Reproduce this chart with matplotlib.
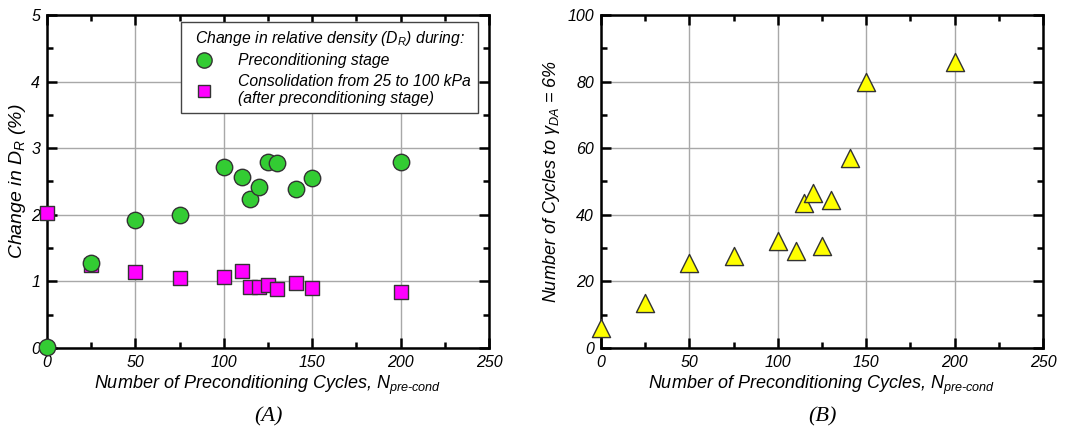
import matplotlib.pyplot as plt
from matplotlib.lines import Line2D
from matplotlib.ticker import MultipleLocator

plt.rcParams["font.family"] = ["Liberation Sans", "DejaVu Sans"]
plt.rcParams["font.style"] = "italic"
plt.rcParams["mathtext.fontset"] = "custom"
plt.rcParams["mathtext.it"] = "Liberation Sans:italic"
plt.rcParams["mathtext.rm"] = "Liberation Sans:italic"

# Number of preconditioning cycles (shared x values)
n_precond = [0, 25, 50, 75, 100, 110, 115, 120, 125, 130, 141, 150, 200]

# Panel A: change in relative density (%)
dr_precond = [0.02, 1.27, 1.92, 2.00, 2.71, 2.56, 2.23, 2.41, 2.79, 2.77, 2.39, 2.55, 2.79]
dr_consol = [2.03, 1.24, 1.14, 1.05, 1.06, 1.16, 0.92, 0.91, 0.95, 0.89, 0.98, 0.90, 0.84]

# Panel B: number of cycles to gamma_DA = 6%
n_cycles = [6, 13.5, 25.5, 27.5, 32, 29, 43.5, 46.5, 30.5, 44.5, 57, 80, 86]

xlabel = r"Number of Preconditioning Cycles, $N_{pre\text{-}cond}$"


def style_axes(ax, ymax, ymajor, yminor):
    ax.set_xlim(0, 250)
    ax.set_ylim(0, ymax)
    ax.xaxis.set_major_locator(MultipleLocator(50))
    ax.xaxis.set_minor_locator(MultipleLocator(25))
    ax.yaxis.set_major_locator(MultipleLocator(ymajor))
    ax.yaxis.set_minor_locator(MultipleLocator(yminor))
    ax.tick_params(which="both", direction="in", top=True, right=True, width=1.8)
    ax.tick_params(which="major", length=7, labelsize=11.5, pad=5)
    ax.tick_params(which="minor", length=4)
    for s in ax.spines.values():
        s.set_linewidth(1.8)
    ax.grid(True, which="major", color="#a8a8a8", lw=1.0)
    ax.set_axisbelow(True)
    ax.set_xlabel(xlabel, fontsize=13, labelpad=3)


fig = plt.figure(figsize=(10.79, 4.30), dpi=100)
ax1 = fig.add_axes([0.0436, 0.191, 0.4097, 0.774])
ax2 = fig.add_axes([0.557, 0.191, 0.4097, 0.774])

# ---- Panel A ----
style_axes(ax1, 5, 1, 0.5)
ax1.scatter(n_precond, dr_consol, marker="s", s=110, c="#ff00ff",
            edgecolors="#333333", linewidths=1.0, zorder=3, clip_on=False)
ax1.scatter(n_precond, dr_precond, marker="o", s=140, c="#33cc33",
            edgecolors="#333333", linewidths=1.0, zorder=4, clip_on=False)
ax1.set_ylabel(r"Change in $D_R$ (%)", fontsize=14, labelpad=2)

handles = [
    Line2D([], [], ls="none", marker="o", markersize=11, mfc="#33cc33", mec="#333333"),
    Line2D([], [], ls="none", marker="s", markersize=9, mfc="#ff00ff", mec="#333333"),
]
leg = ax1.legend(handles,
                 ["Preconditioning stage",
                  "Consolidation from 25 to 100 kPa\n(after preconditioning stage)"],
                 title=r"Change in relative density ($D_R$) during:",
                 loc="upper right", bbox_to_anchor=(0.993, 1.003),
                 fontsize=11.3, title_fontsize=11.3, frameon=True, fancybox=False,
                 framealpha=1, edgecolor="#444444", handletextpad=1.2,
                 borderpad=0.45, labelspacing=0.35)
leg.get_frame().set_linewidth(1.0)

# ---- Panel B ----
style_axes(ax2, 100, 20, 10)
ax2.scatter(n_precond, n_cycles, marker="^", s=170, c="#ffff00",
            edgecolors="#333333", linewidths=1.0, zorder=3, clip_on=False)
ax2.set_ylabel(r"Number of Cycles to $\gamma_{DA}$ = 6%", fontsize=13, labelpad=4)

fig.text(0.2485, 0.03, "(A)", family="Liberation Serif", style="italic",
         fontsize=16, ha="center", va="center")
fig.text(0.762, 0.03, "(B)", family="Liberation Serif", style="italic",
         fontsize=16, ha="center", va="center")

fig.savefig("out.png", dpi=100)
